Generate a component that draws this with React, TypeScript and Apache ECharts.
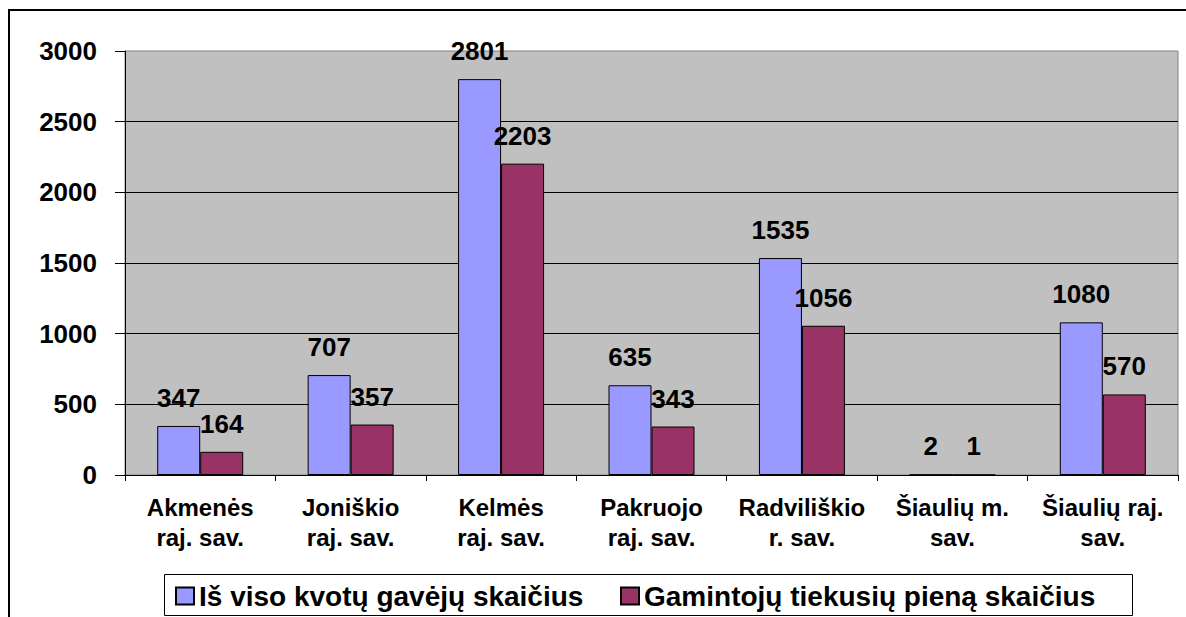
import React, { useEffect, useRef } from "react";
import * as echarts from "echarts";

const categories = [
  "Akmenės\nraj. sav.",
  "Joniškio\nraj. sav.",
  "Kelmės\nraj. sav.",
  "Pakruojo\nraj. sav.",
  "Radviliškio\nr. sav.",
  "Šiaulių m.\nsav.",
  "Šiaulių raj.\nsav.",
];
const seriesNames = ["Iš viso kvotų gavėjų skaičius", "Gamintojų tiekusių pieną skaičius"];
const quotaRecipients = [347, 707, 2801, 635, 1535, 2, 1080];
const milkSuppliers = [164, 357, 2203, 343, 1056, 1, 570];
const yMin = 0;
const yMax = 3000;
const yInterval = 500;

const FONT = "'Liberation Sans', Arial, sans-serif";

export default function App() {
  const ref = useRef<HTMLDivElement>(null);
  useEffect(() => {
    if (!ref.current) return;
    const chart = echarts.init(ref.current, undefined, { renderer: "svg" });
    const label = {
      show: true,
      position: "top",
      distance: 15,
      color: "#000",
      fontFamily: FONT,
      fontWeight: "bold",
      fontSize: 26,
    };
    chart.setOption({
      animation: false,
      backgroundColor: "#fff",
      grid: {
        left: 125,
        top: 51,
        right: 8,
        bottom: 142,
        show: true,
        backgroundColor: "#C0C0C0",
        borderColor: "#808080",
        borderWidth: 1,
      },
      graphic: [
        {
          type: "rect",
          shape: { x: 9, y: 10, width: 1300, height: 800 },
          style: { fill: "none", stroke: "#000", lineWidth: 2 },
          z: 100,
        },
        {
          type: "rect",
          shape: { x: 164.5, y: 574.5, width: 968, height: 41 },
          style: { fill: "#fff", stroke: "#000", lineWidth: 1 },
          z: 0,
        },
      ],
      legend: {
        left: 175,
        top: 582,
        padding: 0,
        itemGap: 19,
        itemWidth: 18,
        itemHeight: 17,
        icon: "rect",
        z: 10,
        textStyle: {
          fontFamily: FONT,
          fontWeight: "bold",
          fontSize: 28,
          color: "#000",
          width: 402,
          lineHeight: 28,
        },
        data: seriesNames,
      },
      xAxis: {
        type: "category",
        data: categories,
        axisLine: { lineStyle: { color: "#000", width: 1 } },
        axisTick: { show: true, length: 6, lineStyle: { color: "#000" } },
        axisLabel: {
          margin: 17,
          color: "#000",
          fontFamily: FONT,
          fontWeight: "bold",
          fontSize: 24,
          lineHeight: 30,
          interval: 0,
        },
      },
      yAxis: {
        type: "value",
        min: yMin,
        max: yMax,
        interval: yInterval,
        axisLine: { show: true, lineStyle: { color: "#000", width: 1 } },
        axisTick: { show: true, length: 10, lineStyle: { color: "#000" } },
        axisLabel: {
          margin: 28,
          color: "#000",
          fontFamily: FONT,
          fontWeight: "bold",
          fontSize: 26,
          formatter: (v: number) => String(v),
        },
        splitLine: {
          show: true,
          showMaxLine: false,
          lineStyle: { color: "#000", width: 1 },
        },
      },
      series: [
        {
          name: seriesNames[0],
          type: "bar",
          data: quotaRecipients,
          barWidth: 43,
          barGap: "0%",
          itemStyle: { color: "#9999FF", borderColor: "#000", borderWidth: 1 },
          label,
        },
        {
          name: seriesNames[1],
          type: "bar",
          data: milkSuppliers,
          barWidth: 43,
          barGap: "0%",
          itemStyle: { color: "#993366", borderColor: "#000", borderWidth: 1 },
          label,
        },
      ],
    });
    return () => chart.dispose();
  }, []);
  return (
    <div
      ref={ref}
      style={{ position: "fixed", left: 0, top: 0, width: 1186, height: 617 }}
    />
  );
}
